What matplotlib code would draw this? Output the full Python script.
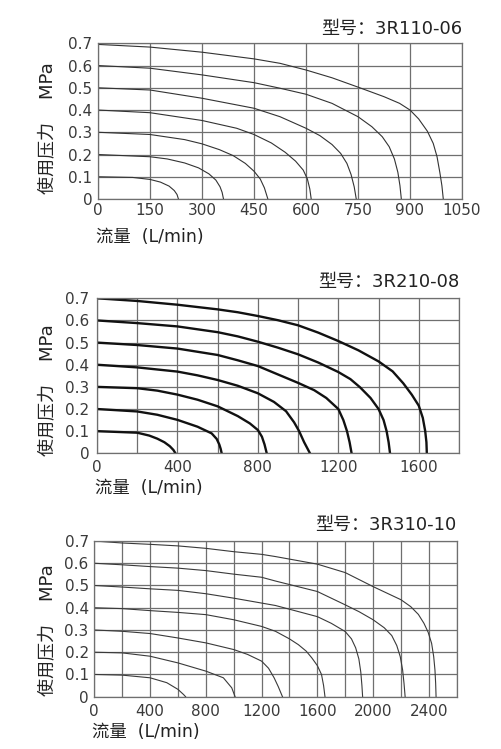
import matplotlib
matplotlib.use('Agg')
import matplotlib.pyplot as plt

plt.rcParams['font.family'] = ['DejaVu Sans', 'Noto Sans CJK SC']

models = ['型号：3R110-06', '型号：3R210-08', '型号：3R310-10']

# ---- 3R110-06 ----
q1_01 = [0, 100, 150, 180, 205, 220, 228, 232]
p1_01 = [0.1, 0.097, 0.088, 0.076, 0.058, 0.038, 0.02, 0]
q1_02 = [0, 150, 200, 250, 290, 320, 340, 352, 358, 362]
p1_02 = [0.2, 0.19, 0.18, 0.162, 0.14, 0.113, 0.085, 0.055, 0.03, 0]
q1_03 = [0, 150, 250, 300, 350, 390, 425, 450, 468, 480, 490]
p1_03 = [0.3, 0.29, 0.267, 0.248, 0.222, 0.195, 0.16, 0.125, 0.09, 0.05, 0]
q1_04 = [0, 150, 300, 400, 450, 500, 540, 570, 592, 604, 611, 615]
p1_04 = [0.4, 0.388, 0.353, 0.318, 0.29, 0.252, 0.21, 0.17, 0.13, 0.09, 0.045, 0]
q1_05 = [0, 150, 300, 450, 525, 600, 640, 675, 700, 718, 730, 739, 745]
p1_05 = [0.5, 0.49, 0.453, 0.408, 0.37, 0.318, 0.285, 0.245, 0.205, 0.16, 0.11, 0.055, 0]
q1_06 = [0, 150, 300, 450, 525, 600, 675, 750, 790, 820, 840, 855, 865, 871, 875]
p1_06 = [0.6, 0.588, 0.558, 0.523, 0.498, 0.471, 0.43, 0.37, 0.325, 0.28, 0.235, 0.18, 0.12, 0.06, 0]
q1_07 = [0, 150, 300, 450, 525, 600, 675, 750, 825, 870, 900, 925, 950, 967, 978, 986, 992, 996]
p1_07 = [0.695, 0.683, 0.66, 0.63, 0.61, 0.58, 0.545, 0.503, 0.46, 0.43, 0.40, 0.36, 0.305, 0.25, 0.19, 0.12, 0.06, 0]

# ---- 3R210-08 ----
q2_01 = [0, 200, 260, 300, 335, 362, 380, 390]
p2_01 = [0.1, 0.093, 0.08, 0.066, 0.05, 0.032, 0.015, 0]
q2_02 = [0, 200, 300, 400, 500, 570, 595, 608, 615, 620]
p2_02 = [0.2, 0.189, 0.174, 0.151, 0.12, 0.09, 0.065, 0.04, 0.02, 0]
q2_03 = [0, 200, 300, 400, 500, 600, 700, 760, 800, 820, 833, 844]
p2_03 = [0.3, 0.294, 0.283, 0.265, 0.242, 0.212, 0.168, 0.135, 0.105, 0.075, 0.04, 0]
q2_04 = [0, 200, 400, 500, 600, 700, 800, 880, 940, 980, 1005, 1030, 1059]
p2_04 = [0.4, 0.388, 0.369, 0.352, 0.331, 0.305, 0.271, 0.232, 0.19, 0.14, 0.1, 0.05, 0]
q2_05 = [0, 200, 400, 600, 700, 800, 900, 1000, 1080, 1140, 1200, 1225, 1243, 1256, 1266]
p2_05 = [0.5, 0.489, 0.473, 0.444, 0.42, 0.394, 0.356, 0.318, 0.285, 0.25, 0.2, 0.15, 0.1, 0.05, 0]
q2_06 = [0, 200, 400, 600, 700, 800, 900, 1000, 1100, 1200, 1260, 1308, 1360, 1400, 1425, 1440, 1450, 1457]
p2_06 = [0.6, 0.588, 0.573, 0.547, 0.528, 0.504, 0.477, 0.447, 0.41, 0.367, 0.335, 0.298, 0.25, 0.2, 0.15, 0.1, 0.05, 0]
q2_07 = [0, 200, 400, 600, 700, 800, 900, 1000, 1100, 1200, 1300, 1400, 1470, 1523, 1565, 1600, 1620, 1632, 1638, 1640]
p2_07 = [0.7, 0.688, 0.671, 0.65, 0.637, 0.62, 0.601, 0.578, 0.545, 0.507, 0.465, 0.415, 0.37, 0.316, 0.265, 0.215, 0.16, 0.1, 0.05, 0]

# ---- 3R310-10 ----
q3_01 = [0, 200, 400, 520, 600, 640, 655]
p3_01 = [0.1, 0.097, 0.085, 0.063, 0.033, 0.01, 0]
q3_02 = [0, 200, 400, 600, 800, 926, 986, 1010]
p3_02 = [0.2, 0.197, 0.182, 0.152, 0.115, 0.085, 0.04, 0]
q3_03 = [0, 200, 400, 600, 800, 1000, 1100, 1200, 1250, 1290, 1320, 1350]
p3_03 = [0.3, 0.294, 0.284, 0.264, 0.242, 0.212, 0.19, 0.16, 0.128, 0.085, 0.045, 0]
q3_04 = [0, 200, 400, 600, 800, 1000, 1200, 1300, 1400, 1464, 1520, 1560, 1600, 1630, 1645, 1655]
p3_04 = [0.4, 0.396, 0.387, 0.379, 0.369, 0.346, 0.316, 0.294, 0.26, 0.234, 0.205, 0.175, 0.14, 0.1, 0.05, 0]
q3_05 = [0, 200, 400, 600, 800, 1000, 1200, 1300, 1600, 1700, 1800, 1845, 1875, 1898, 1912, 1920, 1925]
p3_05 = [0.5, 0.493, 0.485, 0.478, 0.463, 0.443, 0.421, 0.41, 0.36, 0.33, 0.293, 0.26, 0.22, 0.17, 0.11, 0.05, 0]
q3_06 = [0, 200, 400, 600, 800, 1000, 1200, 1300, 1600, 1800, 1900, 2000, 2080, 2134, 2170, 2195, 2212, 2222, 2230]
p3_06 = [0.6, 0.593, 0.585, 0.578, 0.567, 0.551, 0.537, 0.52, 0.473, 0.413, 0.382, 0.346, 0.31, 0.275, 0.23, 0.18, 0.12, 0.06, 0]
q3_07 = [0, 200, 400, 600, 800, 1000, 1200, 1300, 1600, 1800, 2000, 2200, 2270, 2325, 2365, 2395, 2420, 2435, 2444, 2449, 2452]
p3_07 = [0.7, 0.691, 0.685, 0.678, 0.667, 0.652, 0.64, 0.63, 0.596, 0.558, 0.495, 0.436, 0.405, 0.37, 0.33, 0.29, 0.24, 0.18, 0.12, 0.06, 0]

curves1 = [(q1_01, p1_01), (q1_02, p1_02), (q1_03, p1_03), (q1_04, p1_04),
           (q1_05, p1_05), (q1_06, p1_06), (q1_07, p1_07)]
curves2 = [(q2_01, p2_01), (q2_02, p2_02), (q2_03, p2_03), (q2_04, p2_04),
           (q2_05, p2_05), (q2_06, p2_06), (q2_07, p2_07)]
curves3 = [(q3_01, p3_01), (q3_02, p3_02), (q3_03, p3_03), (q3_04, p3_04),
           (q3_05, p3_05), (q3_06, p3_06), (q3_07, p3_07)]

xmax = [1050, 1800, 2600]
xgrid = [list(range(0, 1051, 150)), list(range(0, 1801, 200)), list(range(0, 2601, 200))]
xlabels = [list(range(0, 1051, 150)), list(range(0, 1601, 400)), list(range(0, 2401, 400))]
yticks = [0, 0.1, 0.2, 0.3, 0.4, 0.5, 0.6, 0.7]
ylabels = ['0', '0.1', '0.2', '0.3', '0.4', '0.5', '0.6', '0.7']

W, H = 501, 749
fig = plt.figure(figsize=(W / 100, H / 100), dpi=100)

# axes boxes in pixels: left, right, top, bottom
boxes = [(98, 462, 43.3, 199), (97, 459, 298.3, 453.3), (94.3, 456.7, 541, 696.7)]
line_styles = [dict(color='#333333', lw=0.8), dict(color='#111111', lw=1.7), dict(color='#3a3a3a', lw=0.8)]
xpads = [3.0, 5.0, 5.0]
ypads = [4.0, 5.5, 4.0]
title_y = [29, 282, 525]
xlab_y = [237, 488, 732]
ylab_y = [128, 390, 630]

for i, curves in enumerate([curves1, curves2, curves3]):
    l, r, t, b = boxes[i]
    ax = fig.add_axes([l / W, 1 - b / H, (r - l) / W, (b - t) / H])
    for q, p in curves:
        ax.plot(q, p, solid_joinstyle='round', **line_styles[i])
    ax.set_xlim(0, xmax[i])
    ax.set_ylim(0, 0.7)
    ax.set_xticks(xgrid[i], minor=True)
    ax.set_xticks(xlabels[i])
    ax.set_xticklabels([str(v) for v in xlabels[i]])
    ax.set_yticks(yticks)
    ax.set_yticklabels(ylabels)
    ax.grid(True, which='both', color='#6f6f6f', lw=0.9)
    ax.set_axisbelow(True)
    ax.tick_params(which='both', length=0, labelsize=11, labelcolor='#3a3a3a')
    ax.tick_params(axis='x', pad=xpads[i])
    ax.tick_params(axis='y', pad=ypads[i])
    for s in ax.spines.values():
        s.set_color('#6f6f6f')
        s.set_linewidth(0.9)

    fig.text(r / W, 1 - title_y[i] / H, models[i], ha='right', va='center',
             fontsize=13, color='#222222')
    fig.text((l - 2) / W, 1 - xlab_y[i] / H, '流量  (L/min)', ha='left', va='center',
             fontsize=12.5, color='#222222')
    fig.text(47 / W, 1 - ylab_y[i] / H, '使用压力    MPa', ha='center', va='center',
             rotation=90, fontsize=13, color='#222222')

fig.savefig('out.png', dpi=100)
